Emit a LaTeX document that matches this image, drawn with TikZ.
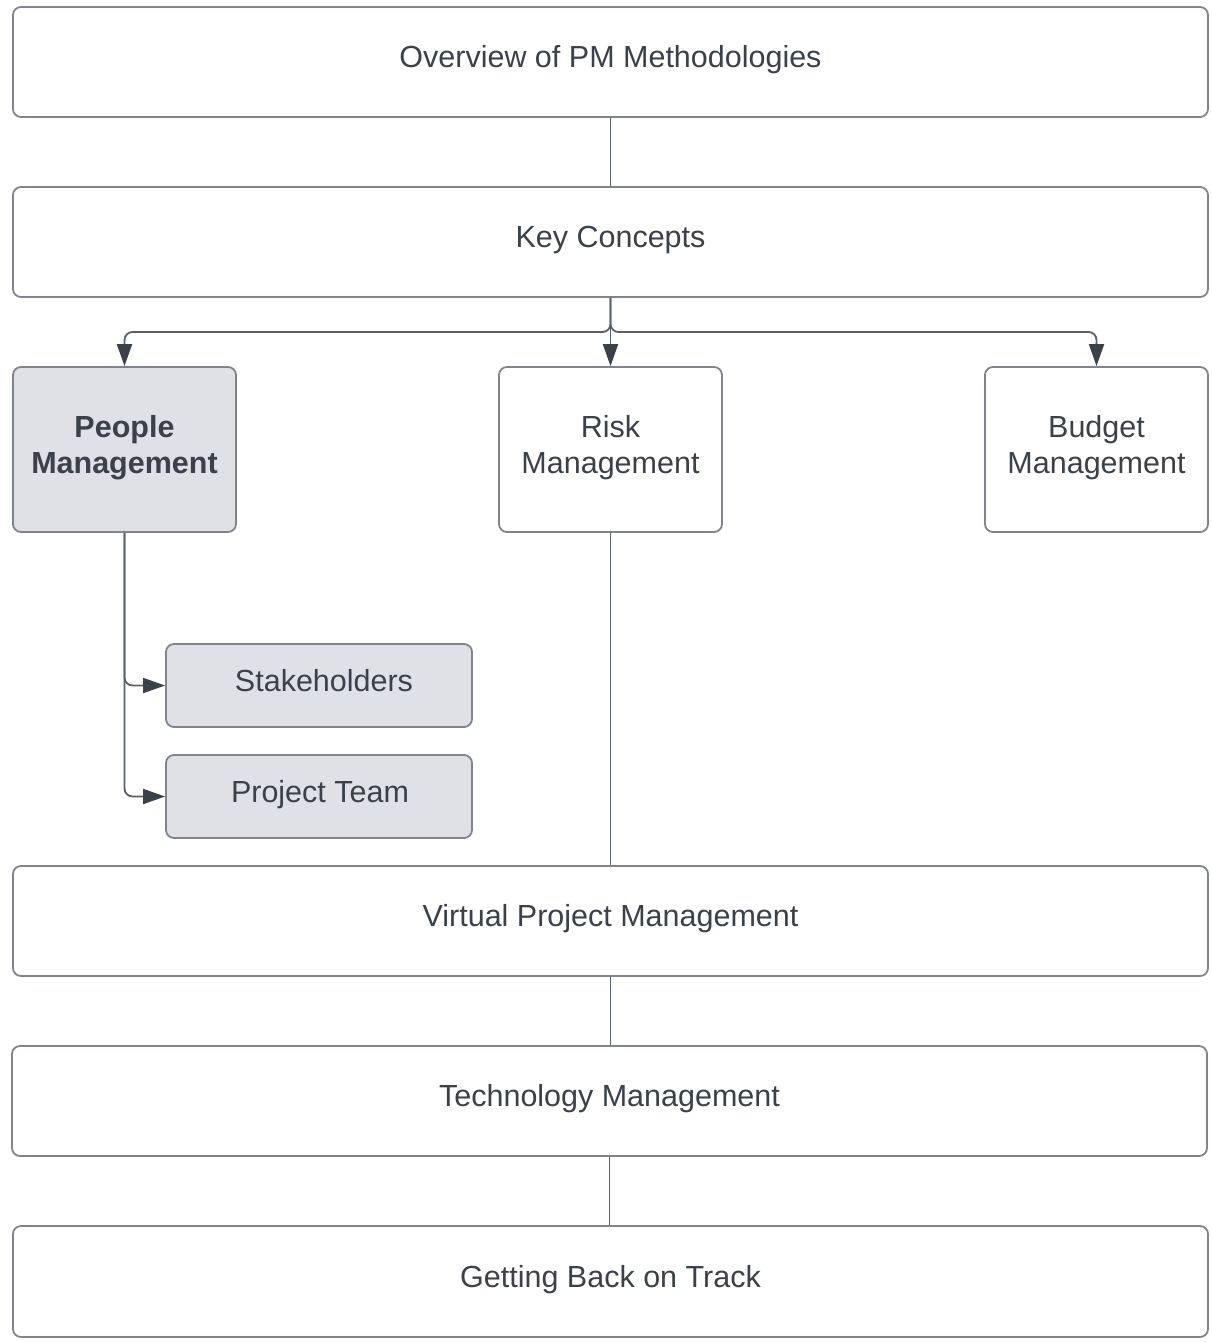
\documentclass[tikz,border=0pt]{standalone}
\usepackage{fontspec}
\setmainfont{Liberation Sans}
\usetikzlibrary{arrows.meta}
\definecolor{txtc}{HTML}{3A414A}
\definecolor{bordc}{HTML}{80858D}
\definecolor{fillc}{HTML}{DFE1E6}
\definecolor{linec}{HTML}{5B6169}
\definecolor{tipc}{HTML}{3A414A}
\begin{document}
\begin{tikzpicture}[x=1pt,y=-1pt,
  box/.style={draw=bordc, line width=1.8pt, rounded corners=8pt, fill=white, inner sep=0pt},
  wide/.style={box, minimum width=1195pt, minimum height=110pt},
  midbox/.style={box, minimum width=223pt, minimum height=165pt},
  subbox/.style={box, fill=fillc, minimum width=306pt, minimum height=83pt},
  lbl/.style={text=txtc, font=\fontsize{30.5}{36.6}\selectfont, align=center, yshift=2pt},
  conn/.style={draw=linec, line width=1.8pt, rounded corners=8pt},
  arr/.style={conn, -{Triangle[length=22pt,width=15pt,color=tipc]}}
]
\useasboundingbox (0,0) rectangle (1211,1342);

\node[wide, label={[lbl]center:Overview of PM Methodologies}] (ov) at (610.5,62) {};
\node[wide, label={[lbl]center:Key Concepts}] (kc) at (610.5,242) {};
\node[midbox, fill=fillc, label={[lbl, font=\fontsize{30.5}{36.6}\selectfont\bfseries]center:People\\Management}] (pm) at (124.5,449.5) {};
\node[midbox, label={[lbl]center:Risk\\Management}] (rm) at (610.5,449.5) {};
\node[midbox, label={[lbl]center:Budget\\Management}] (bm) at (1096.5,449.5) {};
\node[subbox, label={[lbl, xshift=5pt, yshift=3pt]center:Stakeholders}] (sh) at (319,685.5) {};
\node[subbox, label={[lbl, xshift=1pt]center:Project Team}] (pt) at (319,796.5) {};
\node[wide, label={[lbl]center:Virtual Project Management}] (vp) at (610.5,921) {};
\node[wide, label={[lbl]center:Technology Management}] (tm) at (609.5,1101) {};
\node[wide, minimum height=111pt, label={[lbl]center:Getting Back on Track}] (gb) at (610.5,1281.5) {};

\coordinate (split) at (610.5,332);

\draw[conn] (ov.south) -- (kc.north);
\draw[arr] (kc.south) -- (split) -| (pm.north);
\draw[arr] (kc.south) -- (rm.north);
\draw[arr] (kc.south) -- (split) -| (bm.north);
\draw[arr] (pm.south) |- (sh.west);
\draw[arr] (pm.south) |- (pt.west);
\draw[conn] (rm.south) -- (vp.north);
\draw[conn] (vp.south) -- (vp.south |- tm.north);
\draw[conn] (tm.south) -- (tm.south |- gb.north);
\end{tikzpicture}
\end{document}
